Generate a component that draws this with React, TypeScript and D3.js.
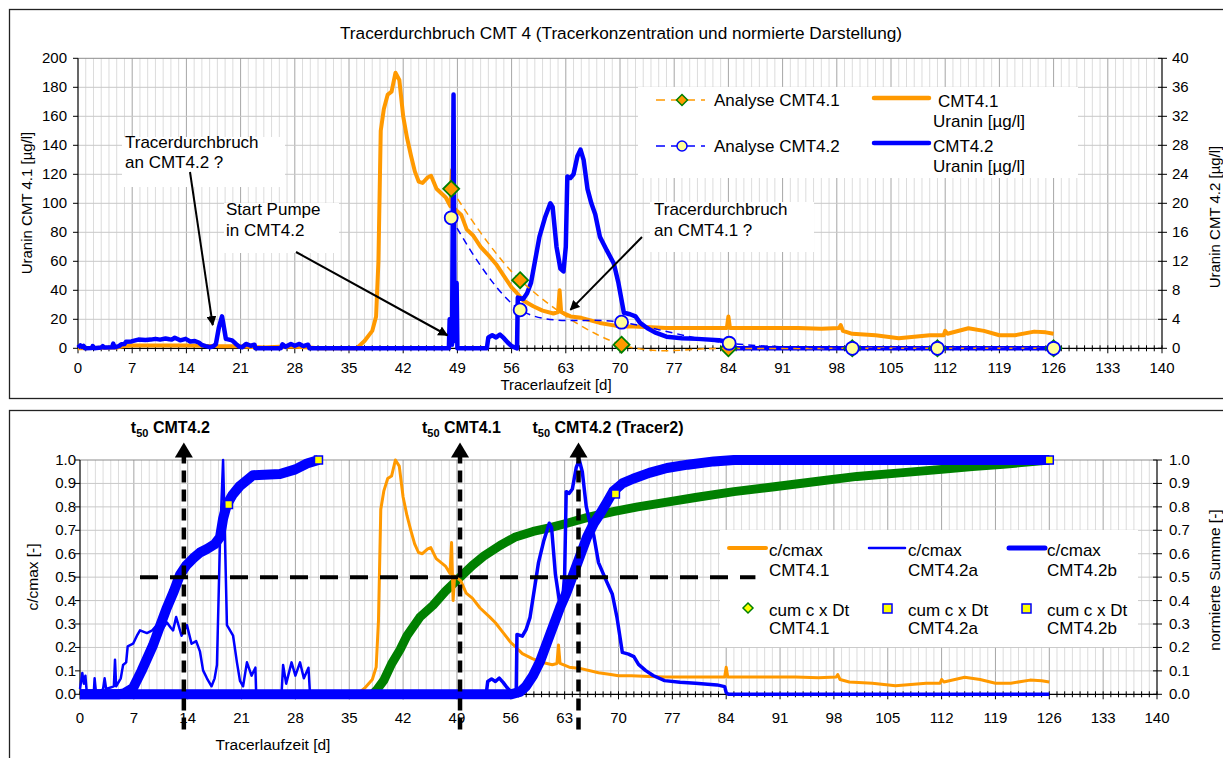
import React from "react";
import * as d3 from "d3";

type Pt = [number, number];

const ORANGE = "#FF9900";
const BLUE = "#0000FF";
const GREEN = "#008000";
const FONT = "'Liberation Sans', Arial, sans-serif";

// Uranin CMT4.1 [µg/l], left axis of the upper chart
const cmt41Uranin: Pt[] = [
  [0, 0], [5, 0.5], [6, 1.5], [7, 2], [10, 2], [14, 2], [18, 1.5], [20, 1.5], [22, 1], [24, 0.5],
  [26, 1], [28, 1], [30, 0.5], [31, 0], [36, 0], [37, 5], [38, 12], [38.5, 22], [38.8, 60],
  [39.1, 150], [39.5, 165], [40, 175], [40.5, 177], [41, 190], [41.5, 185], [42, 160], [42.5, 145],
  [43, 133], [43.5, 122], [44, 115], [44.5, 114], [45.2, 118], [45.6, 119], [46.3, 110], [47.5, 104],
  [48.1, 98], [48.3, 123], [48.5, 76], [48.7, 96], [49.5, 92], [50.2, 82], [51, 78], [52, 70],
  [53.2, 63], [54, 58], [55, 50], [56, 42], [56.7, 38], [57.5, 33], [58.8, 29], [60, 26], [61.4, 24],
  [62, 25], [62.2, 40], [62.4, 25], [63.6, 22], [65, 21], [67.4, 17.5], [69, 16], [70, 15],
  [71.7, 15], [74, 14.5], [76, 14], [80, 14], [83.8, 14], [84, 22], [84.2, 14], [88, 14], [93, 14],
  [96, 13.5], [98.3, 14], [98.5, 16], [98.8, 12], [100, 10], [103, 9], [106, 7], [108, 8], [110, 9],
  [111.8, 9], [112, 12], [112.3, 10], [115, 13.8], [117, 12], [119, 9], [121, 9], [123.5, 11.5],
  [125, 11], [126, 10],
];

// Uranin CMT4.2 [µg/l], right axis: early breakthrough, pump start, tracer 2
const cmt42Early: Pt[] = [
  [0, 0.1], [0.3, 0.4], [0.5, 0.2], [0.7, 0.35], [0.9, 0], [1.8, 0.05], [1.9, 0.3], [2.1, 0],
  [3, 0.1], [3.2, 0.3], [3.4, 0.1], [4.4, 0.15], [4.55, 0.65], [4.7, 0.15], [5.3, 0.3], [5.6, 0.55],
  [6, 0.6], [6.2, 0.9], [6.9, 0.95], [7.4, 1.1], [7.8, 1.2], [8.7, 1.15], [9.4, 1.2], [10, 1.3],
  [10.6, 1.2], [11.3, 1.35], [11.8, 1.25], [12.1, 1.2], [12.5, 1.45], [13.2, 1.1], [13.9, 1.3],
  [14.5, 0.95], [15.1, 1.0], [15.6, 0.8], [16, 0.45], [16.5, 0.3], [17.1, 0.15], [17.5, 0.3],
  [17.8, 0.55], [18.2, 2.9], [18.6, 4.4], [18.8, 3.2], [19.1, 1.3], [19.9, 1.1], [20.4, 0.6],
  [20.8, 0.25], [21.2, 0.15], [21.7, 0.6], [22.3, 0.35], [22.8, 0.5], [22.9, 0], [26.2, 0],
  [26.4, 0.55], [26.8, 0.2], [27.5, 0.6], [28, 0.35], [28.6, 0.6], [29.1, 0.3], [29.7, 0.5],
  [29.9, 0], [31, 0],
];
const cmt42Pump: Pt[] = [
  [31, 0], [47.9, 0], [48.0, 4], [48.2, 3], [48.3, 0.5], [48.5, 35], [48.65, 1], [48.9, 9], [49.0, 0], [50, 0],
];
const cmt42Late: Pt[] = [
  [50, 0], [52.8, 0], [53, 1.5], [53.5, 1.8], [54, 1.5], [54.5, 1.9], [55, 1.4], [55.5, 0.8],
  [56, 0.3], [56.7, 0], [56.8, 7], [57.5, 6.8], [58, 7.6], [58.5, 9], [59.6, 15.4], [60.3, 18],
  [61, 20], [61.3, 19.5], [61.8, 14], [62.3, 11], [62.7, 10.6], [63.0, 14], [63.2, 23.7],
  [63.6, 23.5], [64, 24], [64.5, 26.5], [64.9, 27.4], [65.3, 26], [65.8, 22], [66.3, 20],
  [66.8, 18.5], [67.4, 15.4], [68.3, 13.5], [69.2, 11.7], [69.8, 9], [70.5, 4.9], [71.3, 4.7],
  [72, 4.4], [72.6, 3.5], [73.5, 2.8], [74.5, 2.2], [76, 1.6], [78, 1.4], [80, 1.3], [82.8, 1.1],
  [83.8, 0.9], [84, 0.2], [84.3, 0], [126, 0],
];

// laboratory analyses
const analyse41: Pt[] = [[48.2, 110], [57.1, 47], [70.2, 2.5], [84, 0], [100, 0], [111, 0], [126, 0]];
const analyse42: Pt[] = [[48.2, 18], [57.1, 5.3], [70.2, 3.6], [84.1, 0.7], [100, 0], [111, 0], [126, 0]];

// normalised cumulative sums (cum c x Dt)
const cum41: Pt[] = [
  [38, 0], [38.6, 0.02], [39.5, 0.06], [40.5, 0.13], [41.6, 0.19], [42.5, 0.25], [44.2, 0.33],
  [45.9, 0.38], [47.5, 0.44], [49.4, 0.5], [51, 0.55], [52.5, 0.59], [54.6, 0.635], [56.5, 0.67],
  [58.9, 0.695], [61, 0.71], [63.3, 0.73], [66, 0.755], [69.3, 0.78], [72.5, 0.8], [76.3, 0.82],
  [80, 0.84], [85, 0.865], [90, 0.885], [96.2, 0.91], [101, 0.93], [106.6, 0.945], [112, 0.96],
  [116, 0.972], [120, 0.982], [126, 1.0],
];
const cum42a: Pt[] = [
  [0, 0], [5, 0], [5.8, 0.005], [6.9, 0.027], [8, 0.1], [9.5, 0.21], [10.5, 0.3], [11.3, 0.37],
  [12.2, 0.44], [13, 0.51], [13.8, 0.55], [14.7, 0.58], [15.6, 0.605], [16.5, 0.62], [17.5, 0.64],
  [18.2, 0.67], [18.6, 0.75], [19.1, 0.81], [19.8, 0.85], [20.8, 0.89], [22.5, 0.935], [26, 0.94],
  [28, 0.96], [29.5, 0.985], [31, 1.0],
];
const cum42b: Pt[] = [
  [0, 0], [56, 0], [57.2, 0.01], [58, 0.035], [58.9, 0.08], [59.8, 0.14], [60.7, 0.22], [61.5, 0.29],
  [62.4, 0.37], [63.2, 0.43], [64.1, 0.51], [65, 0.59], [65.9, 0.67], [66.8, 0.73], [67.6, 0.77],
  [68.5, 0.82], [69.3, 0.866], [70.5, 0.9], [71.9, 0.92], [74, 0.945], [76.3, 0.966], [79, 0.98],
  [82.4, 0.994], [85, 1.0], [126, 1.0],
];
const cum42Markers: Pt[] = [[19.3, 0.81], [31, 1.0], [69.6, 0.855], [126, 1.0]];

const t50Days = [13.5, 49.4, 64.8];
const t50Labels = ["CMT4.2", "CMT4.1", "CMT4.2 (Tracer2)"];

const xTicks = d3.range(0, 141, 7);
const dayLines = d3.range(1, 140);
const yTicksTopL = d3.range(0, 201, 20);
const yTicksTopR = d3.range(0, 41, 4);
const yTicksBot = d3.range(0, 11).map((i) => i / 10);

const norm = (arr: Pt[]): Pt[] => {
  const m = d3.max(arr, (d) => d[1]) as number;
  return arr.map(([t, v]) => [t, v / m] as Pt);
};

function Grid({ x, y, yTicks }: { x: any; y: any; yTicks: number[] }) {
  const [y0, y1] = y.range();
  const [x0, x1] = x.range();
  return (
    <g>
      {dayLines.map((d) => (
        <line key={"v" + d} x1={x(d)} x2={x(d)} y1={y0} y2={y1}
          stroke={d % 7 === 0 ? "#a6a6a6" : "#dcdcdc"} strokeWidth={1} />
      ))}
      {yTicks.slice(1).map((t) => (
        <line key={"h" + t} x1={x0} x2={x1} y1={y(t)} y2={y(t)}
          stroke={t === yTicks[yTicks.length - 1] ? "#8c8c8c" : "#c8c8c8"} strokeWidth={1} />
      ))}
    </g>
  );
}

function Axes({ x, y, yTicksL, yTicksR, yR, fmt, labelY, lxR, rxL }: any) {
  const [y0, y1] = y.range();
  const [x0, x1] = x.range();
  return (
    <g fontFamily={FONT} fontSize={15} fill="#000">
      <line x1={x0} x2={x1} y1={y0} y2={y0} stroke="#000" strokeWidth={1.2} />
      <line x1={x0} x2={x0} y1={y0} y2={y1} stroke="#000" strokeWidth={1.2} />
      <line x1={x1} x2={x1} y1={y0} y2={y1} stroke="#000" strokeWidth={1.2} />
      {d3.range(0, 141).map((d) => (
        <line key={"xt" + d} x1={x(d)} x2={x(d)} y1={y0 - 3} y2={y0 + (d % 7 === 0 ? 5 : 3)}
          stroke="#000" strokeWidth={1} />
      ))}
      {xTicks.map((d) => (
        <text key={"xl" + d} x={x(d)} y={labelY} textAnchor="middle">{d}</text>
      ))}
      {yTicksL.map((t: number) => (
        <g key={"yl" + t}>
          <line x1={x0 - 5} x2={x0} y1={y(t)} y2={y(t)} stroke="#000" />
          <text x={lxR} y={y(t) + 5} textAnchor="end">{fmt(t)}</text>
        </g>
      ))}
      {yTicksR.map((t: number) => (
        <g key={"yr" + t}>
          <line x1={x1 - 4} x2={x1 + 5} y1={yR(t)} y2={yR(t)} stroke="#000" />
          <text x={rxL} y={yR(t) + 5} textAnchor="start">{fmt(t)}</text>
        </g>
      ))}
    </g>
  );
}

const diamond = (cx: number, cy: number, r: number) =>
  `M${cx},${cy - r}L${cx + r},${cy}L${cx},${cy + r}L${cx - r},${cy}Z`;

export default function App() {
  const xT = d3.scaleLinear().domain([0, 140]).range([78, 1162]);
  const yL = d3.scaleLinear().domain([0, 200]).range([348.3, 58.3]);
  const yR = d3.scaleLinear().domain([0, 40]).range([348.3, 58.3]);
  const xB = d3.scaleLinear().domain([0, 140]).range([80, 1157]);
  const yB = d3.scaleLinear().domain([0, 1]).range([694.3, 460]);

  const lineT = d3.line<Pt>().x((d) => xT(d[0])).y((d) => yL(d[1]));
  const lineTR = d3.line<Pt>().x((d) => xT(d[0])).y((d) => yR(d[1]));
  const lineB = d3.line<Pt>().x((d) => xB(d[0])).y((d) => yB(d[1]));
  const smoothT = d3.line<Pt>().x((d) => xT(d[0])).y((d) => yL(d[1])).curve(d3.curveCardinal.tension(0));
  const smoothTR = d3.line<Pt>().x((d) => xT(d[0])).y((d) => yR(d[1])).curve(d3.curveCardinal.tension(0));

  const cmt42All = [...cmt42Early, ...cmt42Pump.slice(1), ...cmt42Late.slice(1)];
  const norm41 = norm(cmt41Uranin);
  const norm42a = norm(cmt42Early);
  const norm42b = norm(cmt42Late);

  const fmtTop = (t: number) => String(t);
  const fmtBot = (t: number) => t.toFixed(1);

  return (
    <svg width={1223} height={758} style={{ position: "absolute", left: 0, top: 0, background: "#fff" }}
      fontFamily={FONT}>
      <defs>
        <marker id="ah" viewBox="0 0 10 10" refX="9" refY="5" markerWidth="5" markerHeight="5" orient="auto">
          <path d="M0,0L10,5L0,10Z" fill="#000" />
        </marker>
      </defs>
      <rect x={0} y={0} width={1223} height={758} fill="#fff" />

      {/* ---------- upper chart ---------- */}
      <rect x={9.5} y={9.5} width={1230} height={389} fill="#fff" stroke="#222" strokeWidth={1.3} />
      <text x={621} y={39} textAnchor="middle" fontSize={17.2}>
        Tracerdurchbruch CMT 4 (Tracerkonzentration und normierte Darstellung)
      </text>
      <Grid x={xT} y={yL} yTicks={yTicksTopL} />

      {/* annotation boxes */}
      <rect x={122} y={137} width={163} height={50} fill="#fff" />
      <rect x={224} y={203} width={115} height={50} fill="#fff" />
      <rect x={650} y={202} width={164} height={50} fill="#fff" />

      <Axes x={xT} y={yL} yTicksL={yTicksTopL} yTicksR={yTicksTopR} yR={yR} fmt={fmtTop}
        labelY={373} lxR={67} rxL={1172} />

      <path d={lineT(cmt41Uranin) || ""} fill="none" stroke={ORANGE} strokeWidth={4} strokeLinejoin="round" />
      <path d={lineTR(cmt42All) || ""} fill="none" stroke={BLUE} strokeWidth={4.5} strokeLinejoin="round" />
      <path d={smoothT(analyse41) || ""} fill="none" stroke={ORANGE} strokeWidth={1.5} strokeDasharray="7,5" />
      <path d={smoothTR(analyse42) || ""} fill="none" stroke={BLUE} strokeWidth={1.5} strokeDasharray="7,5" />
      {analyse41.map((d, i) => (
        <path key={"d" + i} d={diamond(xT(d[0]), yL(d[1]), 8)} fill={ORANGE} stroke={GREEN} strokeWidth={1.8} />
      ))}
      {analyse42.map((d, i) => (
        <circle key={"c" + i} cx={xT(d[0])} cy={yR(d[1])} r={6.5} fill="#FFFF99" stroke={BLUE} strokeWidth={1.8} />
      ))}

      <g fontSize={17}>
        <text x={125} y={148}>Tracerdurchbruch</text>
        <text x={125} y={168}>an CMT4.2 ?</text>
        <text x={226} y={215}>Start Pumpe</text>
        <text x={226} y={236}>in CMT4.2</text>
        <text x={654} y={215}>Tracerdurchbruch</text>
        <text x={654} y={236}>an CMT4.1 ?</text>
      </g>
      <line x1={190} y1={172} x2={xT(17.4)} y2={yL(16)} stroke="#000" strokeWidth={2} markerEnd="url(#ah)" />
      <line x1={296} y1={252} x2={xT(47.7)} y2={yL(9)} stroke="#000" strokeWidth={2} markerEnd="url(#ah)" />
      <line x1={642} y1={237} x2={xT(63.6)} y2={yL(26.5)} stroke="#000" strokeWidth={2} markerEnd="url(#ah)" />

      {/* upper legend */}
      <rect x={638} y={87} width={440} height={91} fill="#fff" />
      <g fontSize={17}>
        <line x1={656} x2={705} y1={100} y2={100} stroke={ORANGE} strokeWidth={1.5} strokeDasharray="9,6" />
        <path d={diamond(682, 100, 5.5)} fill={ORANGE} stroke={GREEN} strokeWidth={1.5} />
        <text x={714} y={106}>Analyse CMT4.1</text>
        <line x1={656} x2={705} y1={146} y2={146} stroke={BLUE} strokeWidth={1.5} strokeDasharray="9,6" />
        <circle cx={682} cy={146} r={5} fill="#FFFF99" stroke={BLUE} strokeWidth={1.5} />
        <text x={714} y={152}>Analyse CMT4.2</text>
        <line x1={874} x2={929} y1={98} y2={98} stroke={ORANGE} strokeWidth={4.5} strokeLinecap="round" />
        <text x={938} y={107}>CMT4.1</text>
        <text x={933} y={127}>Uranin [µg/l]</text>
        <line x1={874} x2={929} y1={143} y2={143} stroke={BLUE} strokeWidth={4.5} strokeLinecap="round" />
        <text x={933} y={152}>CMT4.2</text>
        <text x={933} y={172}>Uranin [µg/l]</text>
      </g>

      <g fontSize={15}>
        <text x={556} y={390} textAnchor="middle">Tracerlaufzeit [d]</text>
        <text transform="translate(32,203) rotate(-90)" textAnchor="middle">Uranin CMT 4.1 [µg/l]</text>
        <text transform="translate(1220,217) rotate(-90)" textAnchor="middle">Uranin CMT 4.2 [µg/l]</text>
      </g>

      {/* ---------- lower chart ---------- */}
      <rect x={9.5} y={410.5} width={1230} height={360} fill="#fff" stroke="#222" strokeWidth={1.3} />
      <Grid x={xB} y={yB} yTicks={yTicksBot} />
      <Axes x={xB} y={yB} yTicksL={yTicksBot} yTicksR={yTicksBot} yR={yB} fmt={fmtBot}
        labelY={723} lxR={76} rxL={1169} />

      <path d={lineB(cum41) || ""} fill="none" stroke={GREEN} strokeWidth={9} strokeLinejoin="round" />
      <path d={lineB(norm41) || ""} fill="none" stroke={ORANGE} strokeWidth={3} strokeLinejoin="round" />
      <path d={lineB(cum42a) || ""} fill="none" stroke={BLUE} strokeWidth={10} strokeLinejoin="round" />
      <path d={lineB(cum42b) || ""} fill="none" stroke={BLUE} strokeWidth={10} strokeLinejoin="round" />
      {cum42Markers.map((d, i) => (
        <rect key={"m" + i} x={xB(d[0]) - 4} y={yB(d[1]) - 4} width={8} height={8} fill="#FFFF00" stroke={BLUE} strokeWidth={1.5} />
      ))}
      <path d={lineB(norm42a) || ""} fill="none" stroke={BLUE} strokeWidth={2.5} strokeLinejoin="round" />
      <path d={lineB(norm42b) || ""} fill="none" stroke={BLUE} strokeWidth={3.5} strokeLinejoin="round" />

      {/* lower legend */}
      <rect x={720} y={530} width={418} height={117} fill="#fff" />
      <g fontSize={17}>
        <line x1={729} x2={766} y1={548} y2={548} stroke={ORANGE} strokeWidth={4} strokeLinecap="round" />
        <text x={769} y={556}>c/cmax</text>
        <text x={769} y={576}>CMT4.1</text>
        <line x1={869} x2={905} y1={548} y2={548} stroke={BLUE} strokeWidth={2.5} strokeLinecap="round" />
        <text x={908} y={556}>c/cmax</text>
        <text x={908} y={576}>CMT4.2a</text>
        <line x1={1009} x2={1045} y1={548} y2={548} stroke={BLUE} strokeWidth={5} strokeLinecap="round" />
        <text x={1047} y={556}>c/cmax</text>
        <text x={1047} y={576}>CMT4.2b</text>
        <path d={diamond(748, 608, 5)} fill="#FFFF00" stroke={GREEN} strokeWidth={1.5} />
        <text x={769} y={616}>cum c x Dt</text>
        <text x={769} y={634}>CMT4.1</text>
        <rect x={883} y={604} width={9} height={9} fill="#FFFF00" stroke={BLUE} strokeWidth={1.5} />
        <text x={908} y={616}>cum c x Dt</text>
        <text x={908} y={634}>CMT4.2a</text>
        <rect x={1022} y={604} width={9} height={9} fill="#FFFF00" stroke={BLUE} strokeWidth={1.5} />
        <text x={1047} y={616}>cum c x Dt</text>
        <text x={1047} y={634}>CMT4.2b</text>
      </g>

      {/* t50 markers */}
      <line x1={xB(7.8)} x2={xB(87.8)} y1={yB(0.5)} y2={yB(0.5)} stroke="#000" strokeWidth={4} strokeDasharray="18,12" />
      {t50Days.map((t, i) => {
        const cx = xB(t);
        const top = yB(1.075);
        const offs = [-53, -38, -46];
        return (
          <g key={"t50" + i}>
            <line x1={cx} x2={cx} y1={yB(-0.15)} y2={top + 14} stroke="#000" strokeWidth={4.5} strokeDasharray="12,7" />
            <path d={`M${cx},${top}L${cx + 9},${top + 15}L${cx - 9},${top + 15}Z`} fill="#000" />
            <text x={cx + offs[i]} y={433} fontWeight="bold" fontSize={16}>
              <tspan>t</tspan>
              <tspan fontSize={11} dy={4}>50</tspan>
              <tspan dy={-4}> {t50Labels[i]}</tspan>
            </text>
          </g>
        );
      })}

      <g fontSize={15.5}>
        <text x={273} y={750} textAnchor="middle">Tracerlaufzeit [d]</text>
        <text transform="translate(38,577) rotate(-90)" textAnchor="middle">c/cmax [-]</text>
        <text transform="translate(1220,580) rotate(-90)" textAnchor="middle">normierte Summe [-]</text>
      </g>
    </svg>
  );
}
